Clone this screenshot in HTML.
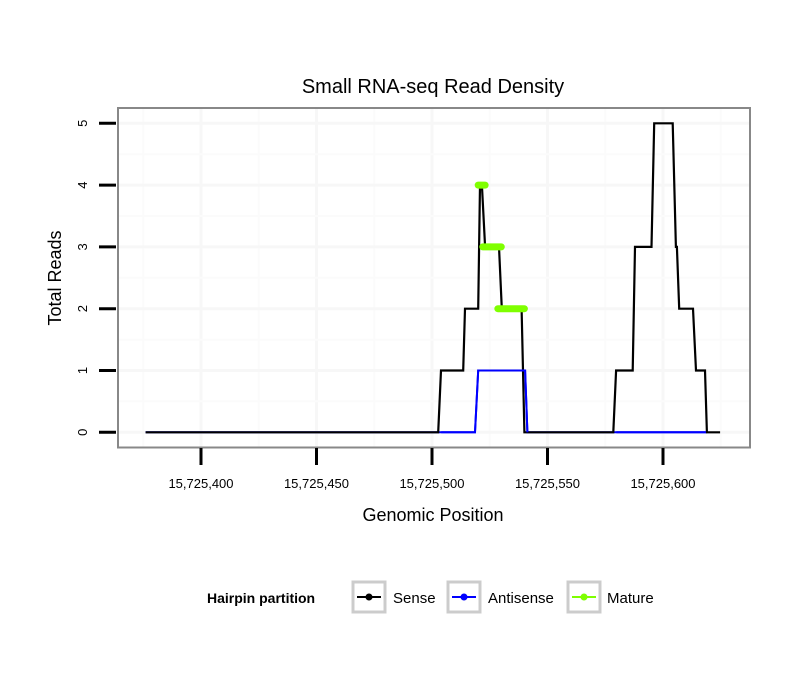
<!DOCTYPE html>
<html><head><meta charset="utf-8"><style>
body{margin:0;background:#fff}
svg text{font-family:"Liberation Sans",sans-serif;fill:#000}
</style></head><body>
<svg width="810" height="690" xmlns="http://www.w3.org/2000/svg">
<rect width="810" height="690" fill="#fff"/>
<g id="grid"></g>
<g id="series"></g>
<rect x="118" y="108" width="632" height="339.5" fill="none" stroke="#888" stroke-width="2"/>
<text x="433" y="93" font-size="20" text-anchor="middle">Small RNA-seq Read Density</text>
<g id="axes"></g>
<text x="433" y="521" font-size="18" text-anchor="middle">Genomic Position</text>
<text transform="translate(61,278) rotate(-90)" font-size="18" text-anchor="middle">Total Reads</text>
<g>
<text x="207" y="603" font-size="14" font-weight="bold">Hairpin partition</text>
<g>
<rect x="353" y="582" width="32" height="30" fill="#fff" stroke="#ccc" stroke-width="3"/>
<line x1="357" y1="597" x2="381" y2="597" stroke="#000" stroke-width="2"/><circle cx="369" cy="597" r="3.5" fill="#000"/>
<text x="393" y="603" font-size="15">Sense</text></g>
<g>
<rect x="448" y="582" width="32" height="30" fill="#fff" stroke="#ccc" stroke-width="3"/>
<line x1="452" y1="597" x2="476" y2="597" stroke="#00f" stroke-width="2"/><circle cx="464" cy="597" r="3.5" fill="#00f"/>
<text x="488" y="603" font-size="15">Antisense</text></g>
<g>
<rect x="568" y="582" width="32" height="30" fill="#fff" stroke="#ccc" stroke-width="3"/>
<line x1="572" y1="597" x2="596" y2="597" stroke="#7fff00" stroke-width="2"/><circle cx="584" cy="597" r="3.5" fill="#7fff00"/>
<text x="607" y="603" font-size="15">Mature</text></g>
</g>
</svg>
<script>
const xTicks=[15725400,15725450,15725500,15725550,15725600];
const xTickLabels=["15,725,400","15,725,450","15,725,500","15,725,550","15,725,600"];
const yTicks=[0,1,2,3,4,5];
const senseX=[15725376,15725502.7,15725503.9,15725513.5,15725514.3,15725520,15725520.8,15725521.6,15725523,15725529,15725530.2,15725538.8,15725540,15725578.5,15725579.7,15725586.9,15725587.9,15725595,15725596.2,15725604.2,15725605.6,15725606,15725607,15725613,15725614.3,15725618.2,15725619,15725624.7];
const senseY=[0,0,1,1,2,2,4,4,3,3,2,2,0,0,1,1,3,3,5,5,3,3,2,2,1,1,0,0];
const antiX=[15725376,15725518.6,15725520,15725540.3,15725541.3,15725619];
const antiY=[0,0,1,1,0,0];
const matureSegX1=[15725520,15725522,15725528.5];
const matureSegX2=[15725523,15725530,15725540];
const matureY=[4,3,2];
const NS="http://www.w3.org/2000/svg";
const sx=v=>201+(v-15725400)*2.31;
const sy=v=>432.3-v*61.8;
function mk(t,a,p){const e=document.createElementNS(NS,t);for(const k in a)e.setAttribute(k,a[k]);p.appendChild(e);return e;}
const grid=document.getElementById('grid'),axes=document.getElementById('axes'),ser=document.getElementById('series');
for(let i=-1;i<xTicks.length;i++){const m=i<0?xTicks[0]-25:xTicks[i]+25;
 if(sx(m)<118||sx(m)>750)continue;
 const l=mk('line',{x1:sx(m),x2:sx(m),y1:108,y2:447,stroke:'#fbfbfb','stroke-width':2},grid);
 }
xTicks.forEach((t,i)=>{const l=mk('line',{x1:sx(t),x2:sx(t),y1:108,y2:447,stroke:'#f7f7f7','stroke-width':3},grid);
 
 const k=mk('line',{x1:sx(t),x2:sx(t),y1:448,y2:465,stroke:'#000','stroke-width':3},axes);
 
 const tx=mk('text',{x:sx(t),y:488,'font-size':13,'text-anchor':'middle'},axes);tx.textContent=xTickLabels[i];
 });
yTicks.forEach(t=>{const l=mk('line',{x1:118,x2:750,y1:sy(t),y2:sy(t),stroke:'#f7f7f7','stroke-width':3},grid);
 
 if(sy(t+0.5)>108){const m=mk('line',{x1:118,x2:750,y1:sy(t+0.5),y2:sy(t+0.5),stroke:'#fbfbfb','stroke-width':2},grid);
 }
 const k=mk('line',{x1:99,x2:116,y1:sy(t),y2:sy(t),stroke:'#000','stroke-width':3},axes);
 
 const tx=mk('text',{transform:`translate(87,${sy(t)}) rotate(-90)`,'font-size':13,'text-anchor':'middle'},axes);tx.textContent=t;
 });
const pts=(X,Y)=>X.map((x,i)=>sx(x).toFixed(1)+','+sy(Y[i]).toFixed(1)).join(' ');
const al=mk('polyline',{points:pts(antiX,antiY),fill:'none',stroke:'#00f','stroke-width':2},ser);

const sl=mk('polyline',{points:pts(senseX,senseY),fill:'none',stroke:'#000','stroke-width':2.2},ser);

const al2=mk('polyline',{points:(sx(senseX[1])+3).toFixed(1)+','+sy(0)+' '+pts(antiX.slice(1,5),antiY.slice(1,5)),fill:'none',stroke:'#00f','stroke-width':2},ser);

const al3=mk('line',{x1:sx(senseX[13])+3,x2:sx(antiX[5])-1,y1:sy(0),y2:sy(0),stroke:'#00f','stroke-width':2},ser);

matureY.forEach((v,i)=>{const l=mk('line',{x1:sx(matureSegX1[i]),x2:sx(matureSegX2[i]),y1:sy(v),y2:sy(v),stroke:'#7fff00','stroke-width':7,'stroke-linecap':'round'},ser);
 });
</script>
</body></html>
